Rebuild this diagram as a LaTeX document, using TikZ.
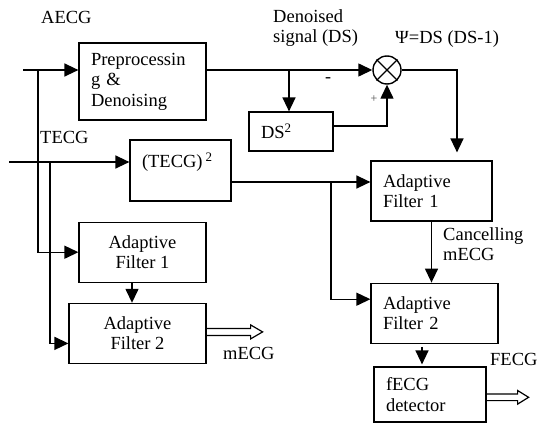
\documentclass[tikz,border=0pt]{standalone}
\usepackage{fontspec}
\setmainfont{Liberation Serif}
\usepackage{xcolor}
\usepackage{tikz}
\usetikzlibrary{shapes,arrows,arrows.meta,positioning}
\tikzstyle{block} = [rectangle, draw, line width=1.2pt, inner xsep=12pt, inner ysep=0pt, align=left, minimum height=60pt]
\tikzstyle{cblock} = [block, align=center]
\tikzstyle{line} = [draw, line width=1.4pt, -{Triangle[length=14pt,width=13pt]}]
\tikzstyle{hollow} = [draw, line width=1.2pt, line join=miter]
\tikzstyle{lbl} = [inner sep=0pt, anchor=west, align=left]

\begin{document}
\begin{tikzpicture}[x=1pt, y=-1pt, font=\fontsize{18.5}{20.5}\selectfont]
    \useasboundingbox (0,0) rectangle (537,423);
    % Nodes
    \node [block, text width=103pt, minimum height=77pt] (pre) at (142.5,81.5) {Preprocessin\\g \&\\Denoising};
    \node [block, text width=60pt, minimum height=39pt] (ds2) at (291,131.5) {DS\textsuperscript{2}};
    \node [block, text width=77pt, minimum height=61pt] (sq) at (180.5,170.5) {(TECG)\,\textsuperscript{2}\\\mbox{}};
    \node [circle, draw, line width=1.4pt, inner sep=0pt, minimum size=28pt] (mul) at (387,70) {};
    \node [block, text width=97pt] (rf1) at (431.5,191) {Adaptive\\Filter 1};
    \node [block, text width=103pt, below=61pt of rf1.south west, anchor=north west] (rf2) {Adaptive\\Filter 2};
    \node [block, text width=88pt, minimum height=55pt] (det) at (430,394.5) {fECG\\detector};
    \node [cblock, minimum width=127pt, below=101pt of pre] (lf1) {Adaptive\\Filter 1};
    \node [cblock, minimum width=137pt, below=20pt of lf1.south east, anchor=north east] (lf2) {Adaptive\\Filter 2};

    % Labels
    \node [lbl] (aecgl) at (41,17) {AECG};
    \node [lbl] (tecgl) at (40,137) {TECG};
    \node [lbl] (dsl) at (273,28) {Denoised\\signal (DS)};
    \node [lbl] (psil) at (395,39) {Ψ=DS (DS-1)};
    \node [lbl] (cml) at (443,244) {Cancelling\\mECG};
    \node [lbl] (ml) at (223,353) {mECG};
    \node [lbl] (fl) at (490,359) {FECG};
    \node [font=\fontsize{18}{18}\selectfont] (minus) at (328,80) {-};
    \node [font=\fontsize{12}{12}\selectfont, gray!60!black] (plus) at (374,99) {+};

    % Coordinates
    \coordinate (aecg) at (23,70);
    \coordinate (tecg) at (9,162);
    \coordinate (aj) at (38,70);
    \coordinate (tj) at (50,162);
    \coordinate (dj) at (289,70);
    \coordinate (pj) at (457,70);
    \coordinate (sj) at (331,182);
    \coordinate (ln) at ([xshift=-10.5pt]lf1.south);
    \coordinate (dn) at ([xshift=-8pt]det.north);

    % Edges
    \draw [line width=1.4pt] (mul.north west) -- (mul.south east) (mul.north east) -- (mul.south west);
    \path [line] (aecg) -- (aecg -| pre.west);
    \path [line] (aj) |- (lf1.west);
    \path [line] (tecg) -- (tecg -| sq.west);
    \path [line] (tj) |- ([yshift=-10pt]lf2.west);
    \path [line] (aecg -| pre.east) -- (mul.west);
    \path [line] (dj) -- (dj |- ds2.north);
    \path [line] ([yshift=5.5pt]ds2.east) -| (mul.south);
    \path [line, shorten >=8pt] (mul.east) -- (pj) -- (pj |- rf1.north);
    \path [line] (sq.east |- sj) -- (sj -| rf1.west);
    \path [line] (sj) |- ([yshift=14pt]rf2.west);
    \path [line] (rf1.south) -- (rf1.south |- rf2.north);
    \path [line, shorten <=3pt, shorten >=2pt] (dn |- rf2.south) -- (dn);
    \path [line] (ln) -- (ln |- lf2.north);

    % Outputs
    \path [hollow] ([yshift=5pt]lf2.east) -- ++(44,0) -- ++(0,-3.5) -- ++(12,7) -- ++(-12,7) -- ++(0,-3.5) -- ++(-44,0);
    \path [hollow] ([yshift=0.5pt]det.east) -- ++(31,0) -- ++(0,-3.5) -- ++(11,6.8) -- ++(-11,6.8) -- ++(0,-3.5) -- ++(-31,0);
\end{tikzpicture}
\end{document}
